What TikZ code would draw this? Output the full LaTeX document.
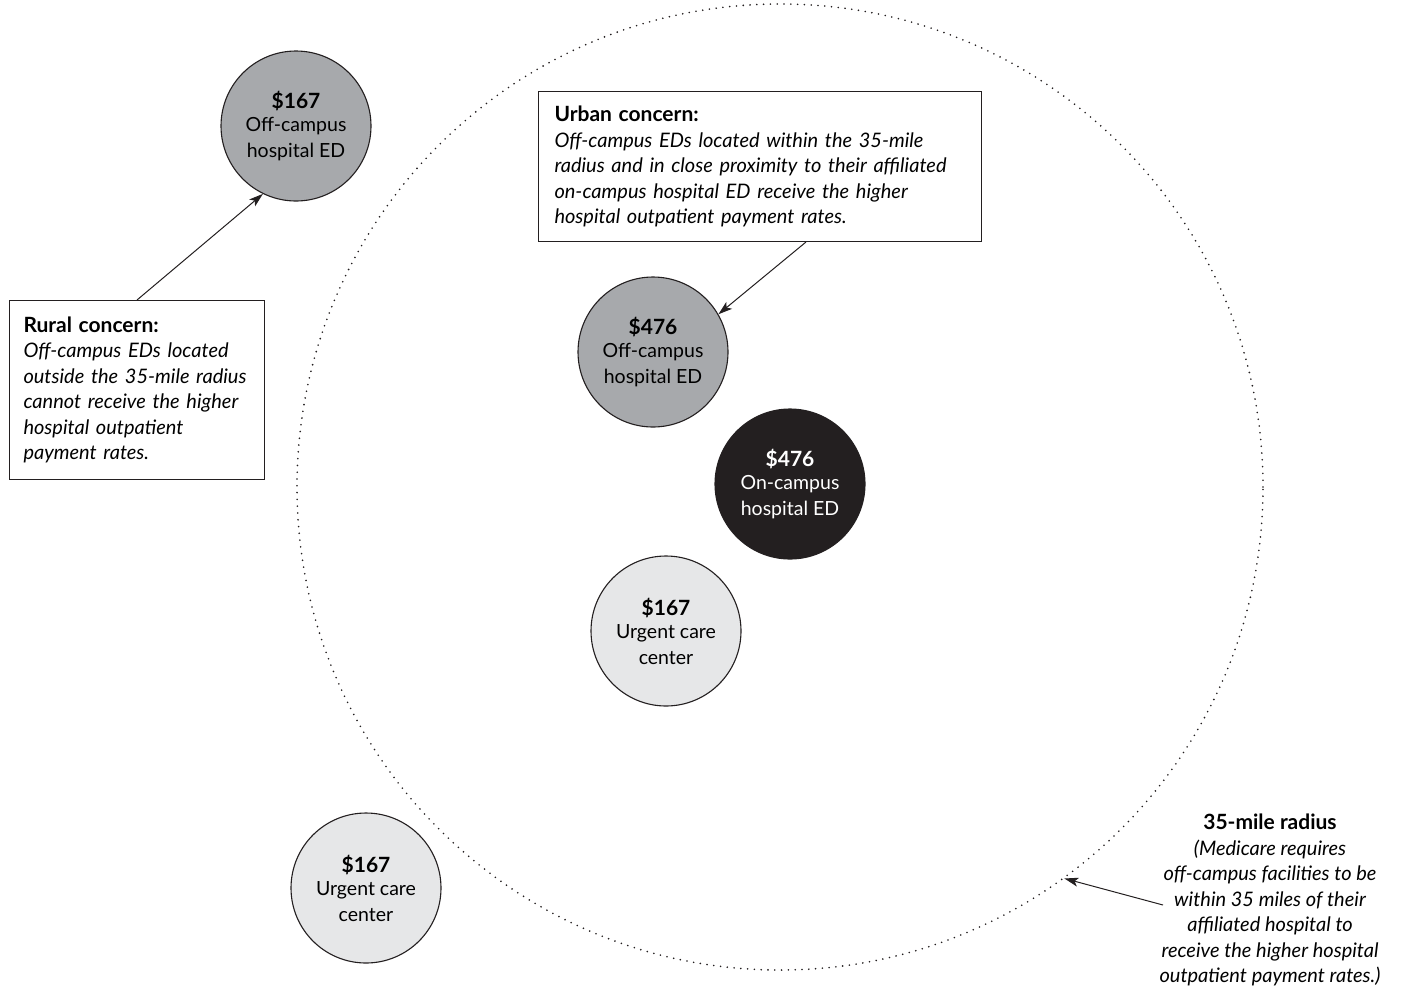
\documentclass[tikz,border=0pt]{standalone}
\usepackage{fontspec}
\setmainfont{Lato}
\usepackage{tikz}
\usetikzlibrary{arrows.meta,positioning}
\definecolor{midgray}{HTML}{A7A9AC}
\definecolor{palegray}{HTML}{E6E7E8}
\definecolor{inkblack}{HTML}{231F20}
\tikzset{
  site/.style={circle, draw=inkblack, line width=1.1pt, minimum size=150pt, inner sep=0pt,
    align=center, font=\fontsize{19.5}{25.5}\selectfont},
  concern/.style={draw=inkblack, line width=1pt, anchor=north west, align=left,
    inner xsep=14pt, inner ysep=0pt, font=\fontsize{20}{25.5}\selectfont},
  pointer/.style={-{Stealth[length=14pt,width=9pt,inset=3.5pt]}, line width=1pt, inkblack},
}
\newcommand{\hd}[1]{{\bfseries\fontsize{21}{25.5}\selectfont #1}}
\begin{document}
\begin{tikzpicture}[x=1pt, y=-1pt]
    \useasboundingbox (0,0) rectangle (1406,1005);
    % 35-mile ring
    \node[circle, draw=inkblack, line width=1.8pt, line cap=round,
      dash pattern=on 0pt off 6.8pt, minimum size=966pt] (ring) at (780,487) {};
    % Sites inside the ring
    \node[site, fill=midgray] (offurban) at (653,352)
      {\hd{\$476}\\[-2pt]Off-campus\\hospital ED};
    \node[site, fill=inkblack, text=white] (oncampus) at (790,484)
      {\hd{\$476}\\[-2pt]On-campus\\hospital ED};
    \node[site, fill=palegray] (urgentin) at (666,631)
      {\hd{\$167}\\[-2pt]Urgent care\\center};
    % Sites outside the ring
    \node[site, fill=midgray] (offrural) at (296,126)
      {\hd{\$167}\\[-2pt]Off-campus\\hospital ED};
    \node[site, fill=palegray] (urgentout) at (366,888)
      {\hd{\$167}\\[-2pt]Urgent care\\center};
    % Concern boxes
    \node[concern, text width=227pt, minimum height=179pt] (rural) at (9,300)
      {\hd{Rural concern:}\\\itshape Off-campus EDs located\\\itshape outside the 35-mile radius\\
       \itshape cannot receive the higher\\\itshape hospital outpatient\\\itshape payment rates.};
    \node[concern, inner xsep=16pt, text width=411pt, minimum height=150pt] (urban) at (538,91)
      {\hd{Urban concern:}\\\itshape Off-campus EDs located within the 35-mile\\
       \itshape radius and in close proximity to their affiliated\\
       \itshape on-campus hospital ED receive the higher\\\itshape hospital outpatient payment rates.};
    % Radius note
    \node[align=center, font=\fontsize{20}{25.5}\selectfont] (radnote) at (1270,900)
      {\hd{35-mile radius}\\\itshape (Medicare requires\\\itshape off-campus facilities to be\\
       \itshape within 35 miles of their\\\itshape affiliated hospital to\\
       \itshape receive the higher hospital\\\itshape outpatient payment rates.)};
    \coordinate (radtail) at (1163,905);
    % Arrows
    \draw[pointer] (rural.north) -- (offrural.244);
    \draw[pointer] ([xshift=46pt]urban.south) -- (offurban.30);
    \draw[pointer] (radtail) -- (ring.-54);
\end{tikzpicture}
\end{document}
